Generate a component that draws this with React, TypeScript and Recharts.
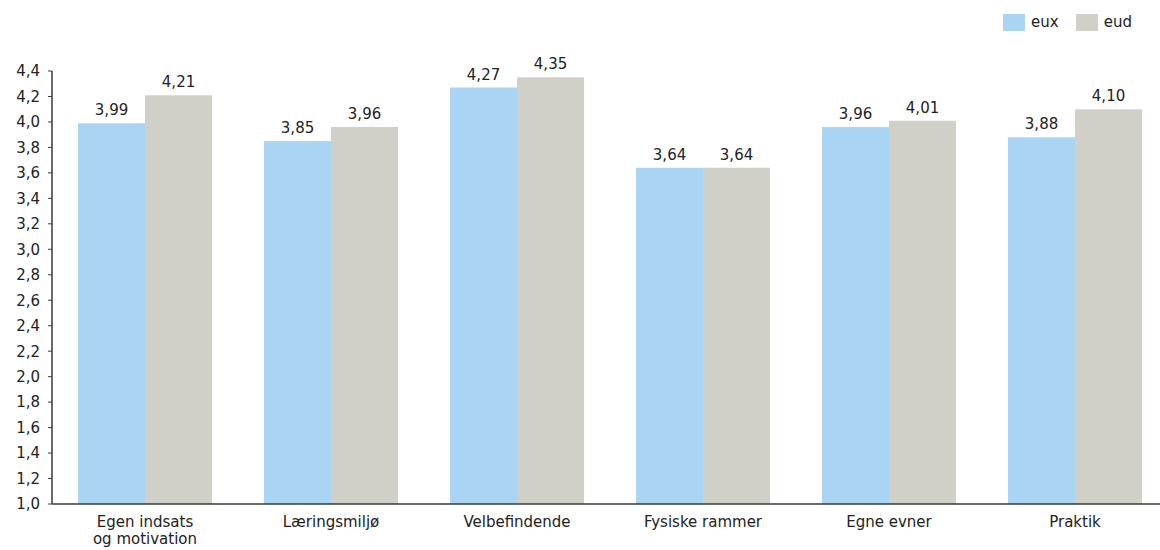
import { BarChart, Bar, XAxis, YAxis, LabelList } from 'recharts'

const categories = ['Egen indsats\nog motivation', 'Læringsmiljø', 'Velbefindende', 'Fysiske rammer', 'Egne evner', 'Praktik']
const euxValues = [3.99, 3.85, 4.27, 3.64, 3.96, 3.88]
const eudValues = [4.21, 3.96, 4.35, 3.64, 4.01, 4.10]
const yTicks = [1.0, 1.2, 1.4, 1.6, 1.8, 2.0, 2.2, 2.4, 2.6, 2.8, 3.0, 3.2, 3.4, 3.6, 3.8, 4.0, 4.2, 4.4]

const SERIES = [
  { key: 'eux', color: '#a9d4f4' },
  { key: 'eud', color: '#d0d0c8' },
]

const data = categories.map((name, i) => ({ name, eux: euxValues[i], eud: eudValues[i] }))

const FONT = '"DejaVu Sans", Verdana, sans-serif'
const FS = 15
const TEXT = '#222'
const AXIS = '#3a3a3a'

const comma = (v: number, d: number) => v.toFixed(d).replace('.', ',')

function CategoryTick({ x, y, payload }: any) {
  const lines = String(payload.value).split('\n')
  return (
    <text x={x} y={y} textAnchor="middle" fill={TEXT} fontSize={FS} fontFamily={FONT}>
      {lines.map((line, i) => (
        <tspan key={i} x={x} dy={i === 0 ? 9 : 17}>{line}</tspan>
      ))}
    </text>
  )
}

export default function App() {
  return (
    <div style={{ position: 'absolute', left: 0, top: 0, width: 1160, height: 550, overflow: 'hidden', background: '#fff', fontFamily: FONT }}>
      <BarChart
        width={1168}
        height={550}
        data={data}
        margin={{ top: 71, right: 0, bottom: 0, left: 0 }}
        barCategoryGap="14%"
        barGap={0}
      >
        <XAxis
          dataKey="name"
          height={46}
          tickLine={false}
          tickSize={0}
          tickMargin={14}
          interval={0}
          axisLine={{ stroke: AXIS, strokeWidth: 1.5 }}
          tick={<CategoryTick />}
        />
        <YAxis
          width={52}
          domain={[1, 4.4]}
          ticks={yTicks}
          interval={0}
          allowDataOverflow
          tickSize={4}
          tickMargin={8}
          tickFormatter={(v: number) => comma(v, 1)}
          tick={{ fill: TEXT, fontSize: FS, fontFamily: FONT }}
          axisLine={{ stroke: AXIS, strokeWidth: 1.5 }}
          tickLine={{ stroke: AXIS }}
        />
        {SERIES.map((s) => (
          <Bar key={s.key} dataKey={s.key} fill={s.color} isAnimationActive={false}>
            <LabelList
              dataKey={s.key}
              position="top"
              offset={8}
              formatter={(v: any) => comma(Number(v), 2)}
              fill={TEXT}
              fontSize={FS}
              fontFamily={FONT}
            />
          </Bar>
        ))}
      </BarChart>
      <div style={{ position: 'absolute', top: 13, right: 28, display: 'flex', alignItems: 'center', fontSize: FS, color: TEXT }}>
        {SERIES.map((s, i) => (
          <div key={s.key} style={{ display: 'flex', alignItems: 'center', marginLeft: i === 0 ? 0 : 17 }}>
            <span style={{ display: 'inline-block', width: 22, height: 17, background: s.color, marginRight: 6 }} />
            <span>{s.key}</span>
          </div>
        ))}
      </div>
    </div>
  )
}
